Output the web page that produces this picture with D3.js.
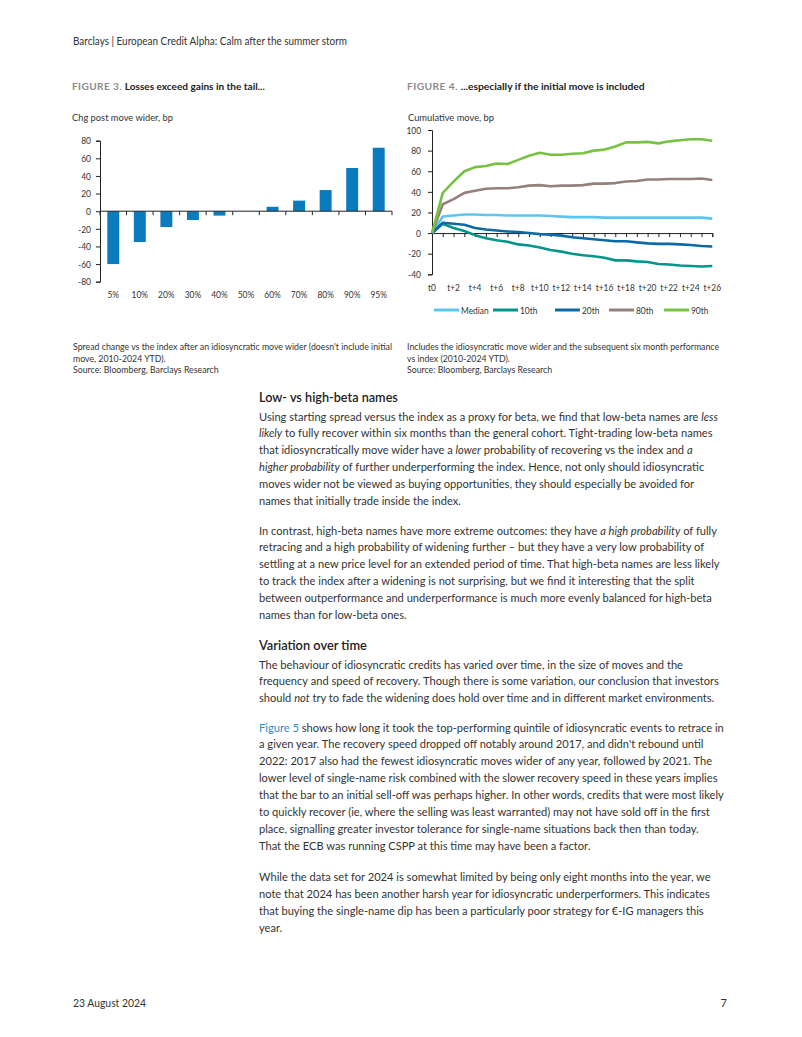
<!DOCTYPE html>
<html><head><meta charset="utf-8">
<script src="https://cdn.jsdelivr.net/npm/d3@7"></script>
<style>body{margin:0;background:#fff}svg{display:block}</style>
</head><body>
<svg id="page" width="802" height="1037"></svg>
<script>
// ---------- DATA ----------
const fig3Categories = ["5%","10%","20%","30%","40%","50%","60%","70%","80%","90%","95%"];
const fig3Values = [-60,-35,-18,-10,-5,0,5,12,24,49,72];
const fig3YTicks = [-80,-60,-40,-20,0,20,40,60,80];

const fig4Periods = ["t0","t+1","t+2","t+3","t+4","t+5","t+6","t+7","t+8","t+9","t+10","t+11","t+12","t+13","t+14","t+15","t+16","t+17","t+18","t+19","t+20","t+21","t+22","t+23","t+24","t+25","t+26"];
const fig4XTickLabels = ["t0","t+2","t+4","t+6","t+8","t+10","t+12","t+14","t+16","t+18","t+20","t+22","t+24","t+26"];
const fig4YTicks = [-40,-20,0,20,40,60,80,100];
const seriesNames = ["Median","10th","20th","80th","90th"];
const seriesMedian = [0,16,17,18,18,17.5,17.5,17,17,17,17,16.5,16,15.5,15.5,15.5,15,15,15,15,15,15,15,15,15,15,14];
const series10th = [0,9,5,2,-2,-5,-7,-8.5,-11,-12,-14,-16.5,-18,-20,-21.5,-22.5,-24,-26.5,-26.5,-27.5,-28,-30,-30.5,-31.5,-32,-32.5,-32];
const series20th = [0,10,9,8,5,3.5,2.5,1.5,1,0,-1,-1.5,-2.5,-4,-5,-6,-7,-8,-8,-9,-10,-10.5,-10.5,-11,-11.5,-12.5,-13];
const series80th = [0,28,33,39,41,43,43.5,43.5,44.5,46,46.5,45.5,46,46,46.5,48,48,48.5,50,50.5,52,52,52.5,52.5,52.5,53,51.5];
const series90th = [0,39,50,60,64,65,67.5,67,71,75,78,76,76,77,77.5,80,81,84,88,88,88.5,87,89,90,91,91,89.5];
const seriesColors = ["#5cc6f0","#00968c","#0b6aa6","#94817a","#77c243"];

const headerText = "Barclays | European Credit Alpha: Calm after the summer storm";
const fig3Label = "FIGURE 3.";
const fig3Title = "Losses exceed gains in the tail...";
const fig4Label = "FIGURE 4.";
const fig4Title = "...especially if the initial move is included";
const fig3AxisTitle = "Chg post move wider, bp";
const fig4AxisTitle = "Cumulative move, bp";
const fig3Notes = ["Spread change vs the index after an idiosyncratic move wider (doesn't include initial","move, 2010-2024 YTD).","Source: Bloomberg, Barclays Research"];
const fig4Notes = ["Includes the idiosyncratic move wider and the subsequent six month performance","vs index (2010-2024 YTD).","Source: Bloomberg, Barclays Research"];
const footerDate = "23 August 2024";
const footerPage = "7";

// body text: each line is a list of [text, style] segments (i = italic, l = link)
const heading1 = "Low- vs high-beta names";
const para1 = [
 [["Using starting spread versus the index as a proxy for beta, we find that low-beta names are "],["less","i"]],
 [["likely","i"],[" to fully recover within six months than the general cohort. Tight-trading low-beta names"]],
 [["that idiosyncratically move wider have a "],["lower","i"],[" probability of recovering vs the index and "],["a","i"]],
 [["higher probability","i"],[" of further underperforming the index. Hence, not only should idiosyncratic"]],
 [["moves wider not be viewed as buying opportunities, they should especially be avoided for"]],
 [["names that initially trade inside the index."]]
];
const para2 = [
 [["In contrast, high-beta names have more extreme outcomes: they have "],["a high probability","i"],[" of fully"]],
 [["retracing and a high probability of widening further \u2013 but they have a very low probability of"]],
 [["settling at a new price level for an extended period of time. That high-beta names are less likely"]],
 [["to track the index after a widening is not surprising, but we find it interesting that the split"]],
 [["between outperformance and underperformance is much more evenly balanced for high-beta"]],
 [["names than for low-beta ones."]]
];
const heading2 = "Variation over time";
const para3 = [
 [["The behaviour of idiosyncratic credits has varied over time, in the size of moves and the"]],
 [["frequency and speed of recovery. Though there is some variation, our conclusion that investors"]],
 [["should "],["not","i"],[" try to fade the widening does hold over time and in different market environments."]]
];
const para4 = [
 [["Figure 5","l"],[" shows how long it took the top-performing quintile of idiosyncratic events to retrace in"]],
 [["a given year. The recovery speed dropped off notably around 2017, and didn't rebound until"]],
 [["2022: 2017 also had the fewest idiosyncratic moves wider of any year, followed by 2021. The"]],
 [["lower level of single-name risk combined with the slower recovery speed in these years implies"]],
 [["that the bar to an initial sell-off was perhaps higher. In other words, credits that were most likely"]],
 [["to quickly recover (ie, where the selling was least warranted) may not have sold off in the first"]],
 [["place, signalling greater investor tolerance for single-name situations back then than today."]],
 [["That the ECB was running CSPP at this time may have been a factor."]]
];
const para5 = [
 [["While the data set for 2024 is somewhat limited by being only eight months into the year, we"]],
 [["note that 2024 has been another harsh year for idiosyncratic underperformers. This indicates"]],
 [["that buying the single-name dip has been a particularly poor strategy for \u20ac-IG managers this"]],
 [["year."]]
];

// ---------- RENDER ----------
const FONT = "Lato, 'Noto Sans', sans-serif";
const TXT = "#333";
const svg = d3.select("#page").attr("font-family", FONT);

// squeeze a plain text element horizontally by a factor
function squeeze(sel, k){
  sel.each(function(){
    const w = this.getComputedTextLength();
    d3.select(this).attr("textLength", w*k).attr("lengthAdjust","spacingAndGlyphs");
  });
}
// fit a plain text element to a target width
function fitTo(sel, target){
  sel.attr("textLength", target).attr("lengthAdjust","spacingAndGlyphs");
}

// header / footer
fitTo(svg.append("text").attr("x",73).attr("y",45).attr("font-size",11).attr("fill",TXT).text(headerText), 274);
fitTo(svg.append("text").attr("x",73).attr("y",1007).attr("font-size",11).attr("fill",TXT).text(footerDate), 73);
svg.append("text").attr("x",727).attr("y",1007).attr("font-size",11).attr("fill",TXT).attr("text-anchor","end").text(footerPage);

function figTitle(x, label, title, target){
  const t = svg.append("text").attr("x",x).attr("y",90).attr("font-size",10);
  t.append("tspan").attr("fill","#8a8a8a").attr("font-weight",700).attr("letter-spacing",0.4).text(label+" ");
  t.append("tspan").attr("fill","#222").attr("font-weight",700).text(title);
  const w = t.node().getComputedTextLength();
  t.attr("font-size", 10*target/w);
}
figTitle(72, fig3Label, fig3Title, 193);
figTitle(407, fig4Label, fig4Title, 238);

fitTo(svg.append("text").attr("x",72).attr("y",121).attr("font-size",10).attr("fill",TXT).text(fig3AxisTitle), 101);
fitTo(svg.append("text").attr("x",408).attr("y",121).attr("font-size",10).attr("fill",TXT).text(fig4AxisTitle), 86);

const TICKK = 0.84;

// ----- Figure 3 -----
{
  const x = d3.scaleBand().domain(fig3Categories).range([100,392]).paddingInner(0.55).paddingOuter(0.275);
  const y = d3.scaleLinear().domain([-80,80]).range([281.7,140.7]);
  const g = svg.append("g");
  g.selectAll("rect.bar").data(fig3Values).join("rect")
    .attr("x",(d,i)=>x(fig3Categories[i]))
    .attr("width",x.bandwidth())
    .attr("y",d=>y(Math.max(0,d)))
    .attr("height",d=>Math.abs(y(d)-y(0)))
    .attr("fill","#0a7cbd");
  const ya = g.append("g").attr("transform","translate(100,0)")
    .call(d3.axisLeft(y).tickValues(fig3YTicks).tickFormat(d=>String(d)).tickSize(4).tickPadding(5));
  ya.select(".domain").attr("stroke","#222");
  ya.selectAll("line").attr("stroke","#222");
  ya.selectAll("text").attr("font-size",10).attr("fill",TXT).attr("font-family",FONT);
  squeeze(ya.selectAll("text"), TICKK);
  const step = x.step();
  const xa = g.append("g");
  xa.append("line").attr("x1",100).attr("x2",392).attr("y1",y(0)).attr("y2",y(0)).attr("stroke","#222");
  const bounds = fig3Categories.map(c=>x(c) - (step-x.bandwidth())/2).concat([392]);
  xa.selectAll("line.tk").data(bounds).join("line").attr("class","tk")
    .attr("x1",d=>d).attr("x2",d=>d).attr("y1",y(0)).attr("y2",y(0)+4).attr("stroke","#222");
  const xl = g.selectAll("text.xl").data(fig3Categories).join("text").attr("class","xl")
    .attr("x",d=>x(d)+x.bandwidth()/2).attr("y",298).attr("text-anchor","middle")
    .attr("font-size",10).attr("fill",TXT).text(d=>d);
  squeeze(xl, TICKK);
}

// ----- Figure 4 -----
{
  const x = d3.scalePoint().domain(fig4Periods).range([432,712.3]);
  const y = d3.scaleLinear().domain([-40,100]).range([274.3,130]);
  const g = svg.append("g");
  const ya = g.append("g").attr("transform","translate(432,0)")
    .call(d3.axisLeft(y).tickValues(fig4YTicks).tickFormat(d=>String(d)).tickSize(4).tickPadding(7));
  ya.select(".domain").attr("stroke","#222");
  ya.selectAll("line").attr("stroke","#222");
  ya.selectAll("text").attr("font-size",10).attr("fill",TXT).attr("font-family",FONT);
  squeeze(ya.selectAll("text"), TICKK);
  const xa = g.append("g").attr("transform",`translate(0,${y(0)})`)
    .call(d3.axisBottom(x).tickSize(4).tickFormat(""));
  xa.select(".domain").attr("stroke","#222");
  xa.selectAll("line").attr("stroke","#222");
  const xl = g.selectAll("text.xl").data(fig4XTickLabels).join("text").attr("class","xl")
    .attr("x",d=>x(d)).attr("y",291).attr("text-anchor","middle")
    .attr("font-size",10).attr("fill",TXT).text(d=>d);
  squeeze(xl, TICKK);
  const all = [seriesMedian, series10th, series20th, series80th, series90th];
  const line = d3.line().x((d,i)=>x(fig4Periods[i])).y(d=>y(d));
  all.forEach((s,k)=>{
    g.append("path").datum(s).attr("d",line).attr("fill","none")
      .attr("stroke",seriesColors[k]).attr("stroke-width",2.6).attr("stroke-linejoin","round");
  });
  // legend
  const legX = [434, 493, 555, 609, 664];
  const lg = g.append("g");
  seriesNames.forEach((n,k)=>{
    lg.append("line").attr("x1",legX[k]).attr("x2",legX[k]+25).attr("y1",310).attr("y2",310)
      .attr("stroke",seriesColors[k]).attr("stroke-width",3);
    const t = lg.append("text").attr("x",legX[k]+27).attr("y",313.5).attr("font-size",10).attr("fill",TXT).text(n);
    squeeze(t, TICKK);
  });
}

// ----- footnotes -----
function notes(lines, x, firstWidth){
  const ts = lines.map((l,i)=>svg.append("text").attr("x",x).attr("y",350+i*11.6)
      .attr("font-size",8.6).attr("fill",TXT).text(l));
  const f = firstWidth/ts[0].node().getComputedTextLength();
  ts.forEach(t=>squeeze(t, f));
}
notes(fig3Notes, 73, 319);
notes(fig4Notes, 407, 312);

// ----- body -----
const BX = 259, LH = 16.9;
function heading(txt, yb, target){
  const t = svg.append("text").attr("x",BX).attr("y",yb).attr("font-size",14).attr("font-weight",600)
    .attr("fill","#222").text(txt);
  const w = t.node().getComputedTextLength();
  t.attr("font-size", 14*target/w);
}
// calibrate body font size so the first line spans ~461px like the reference
const probe = svg.append("text").attr("font-size",12.6).text(para1[0].map(s=>s[0]).join(""));
const BFS = 12.6 * 461 / probe.node().getComputedTextLength();
probe.remove();
function para(lines, y0){
  lines.forEach((segs,i)=>{
    const t = svg.append("text").attr("x",BX).attr("y",y0+i*LH).attr("font-size",BFS).attr("fill",TXT);
    segs.forEach(s=>{
      const sp = t.append("tspan").text(s[0]);
      if(s[1]==="i") sp.attr("font-style","italic");
      if(s[1]==="l") sp.attr("fill","#1b8fd2");
    });
  });
}
heading(heading1, 402, 139);
para(para1, 420.5);
para(para2, 534.5);
heading(heading2, 650, 108);
para(para3, 668.5);
para(para4, 731.5);
para(para5, 881);
</script>
</body></html>
